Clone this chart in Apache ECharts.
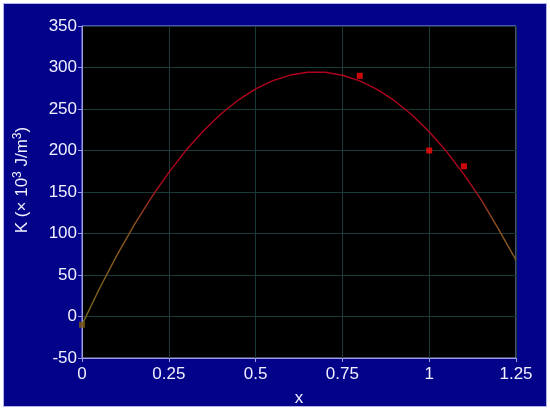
<!DOCTYPE html>
<html>
<head>
<meta charset="utf-8">
<script src="https://cdn.jsdelivr.net/npm/echarts@6/dist/echarts.min.js"></script>
<style>
  html, body { margin: 0; padding: 0; background: #fff; }
  #chart { width: 550px; height: 414px; }
</style>
</head>
<body>
<div id="chart"></div>
<script>
// fitted curve
const curveX = [0, 0.05, 0.1, 0.15, 0.2, 0.25, 0.3, 0.35, 0.4, 0.45, 0.5, 0.55, 0.6,
  0.65, 0.7, 0.75, 0.8, 0.85, 0.9, 0.95, 1, 1.05, 1.1, 1.15, 1.2, 1.25]
const curveY = [-10, 33.4, 73.4, 110.1, 143.6, 173.7, 200.5, 223.9, 244.0, 260.8, 274.2, 284.2, 290.9,
  294.3, 294.2, 290.7, 283.8, 273.7, 260.0, 243.0, 222.5, 198.7, 171.3, 140.6, 105, 68]
// measured points
const pointX = [0.8, 1.0, 1.1]
const pointY = [290, 200, 181]
const startPoint = [0, -10]

const xTicks = ['0', '0.25', '0.5', '0.75', '1', '1.25']

const axisColor = '#9c9ce6'
const gridColor = '#163b38'
const textColor = '#f0f0ff'

const chart = echarts.init(document.getElementById('chart'))

const option = {
  backgroundColor: '#ffffff',
  animation: false,
  graphic: [
    {
      type: 'rect',
      z: -10,
      silent: true,
      shape: { x: 3.5, y: 3.5, width: 543, height: 403 },
      style: { fill: '#03038a', stroke: '#b4b4ec', lineWidth: 1 }
    }
  ],
  grid: {
    left: 82,
    right: 34,
    top: 26,
    bottom: 56,
    show: true,
    backgroundColor: '#000000',
    borderColor: axisColor,
    borderWidth: 1
  },
  xAxis: {
    type: 'value',
    min: 0,
    max: 1.25,
    interval: 0.25,
    name: 'x',
    nameLocation: 'middle',
    nameGap: 32,
    nameTextStyle: { color: textColor, fontSize: 17, fontFamily: 'Liberation Sans' },
    axisLine: { show: true, onZero: false, lineStyle: { color: axisColor } },
    axisTick: { show: true, length: 4, lineStyle: { color: axisColor } },
    axisLabel: {
      color: textColor,
      fontSize: 17,
      fontFamily: 'Liberation Sans',
      margin: 8,
      formatter: v => xTicks[Math.round(v / 0.25)]
    },
    splitLine: { show: true, lineStyle: { color: gridColor, width: 1 } }
  },
  yAxis: {
    type: 'value',
    min: -50,
    max: 350,
    interval: 50,
    name: 'K (× 10{sup|3} J/m{sup|3})',
    nameLocation: 'middle',
    nameGap: 50,
    nameTextStyle: {
      color: textColor,
      fontSize: 17,
      fontFamily: 'Liberation Sans',
      padding: [0, 0, 0, 24],
      rich: {
        sup: { fontSize: 12, color: textColor, fontFamily: 'Liberation Sans', verticalAlign: 'top', padding: [0, 0, 8, 0] }
      }
    },
    axisLine: { show: true, onZero: false, lineStyle: { color: axisColor } },
    axisTick: { show: true, length: 4, lineStyle: { color: axisColor } },
    axisLabel: { color: textColor, fontSize: 17, fontFamily: 'Liberation Sans', margin: 5 },
    splitLine: { show: true, lineStyle: { color: gridColor, width: 1 } }
  },
  series: [
    {
      name: 'fit',
      type: 'line',
      smooth: false,
      showSymbol: false,
      data: curveX.map((x, i) => [x, curveY[i]]),
      lineStyle: {
        width: 1.4,
        color: new echarts.graphic.LinearGradient(0, 0, 0, 1, [
          { offset: 0, color: '#b0001e' },
          { offset: 0.42, color: '#b0001e' },
          { offset: 0.6, color: '#8c5220' },
          { offset: 1, color: '#7c6c22' }
        ])
      },
      z: 2
    },
    {
      name: 'data',
      type: 'scatter',
      symbol: 'rect',
      symbolSize: 6,
      data: pointX.map((x, i) => [x, pointY[i]]),
      itemStyle: { color: '#ff0a0a' },
      z: 3
    },
    {
      name: 'start',
      type: 'scatter',
      symbol: 'rect',
      symbolSize: 6,
      data: [startPoint],
      itemStyle: { color: '#7c5a14' },
      z: 3
    }
  ]
}

chart.setOption(option)
</script>
</body>
</html>
